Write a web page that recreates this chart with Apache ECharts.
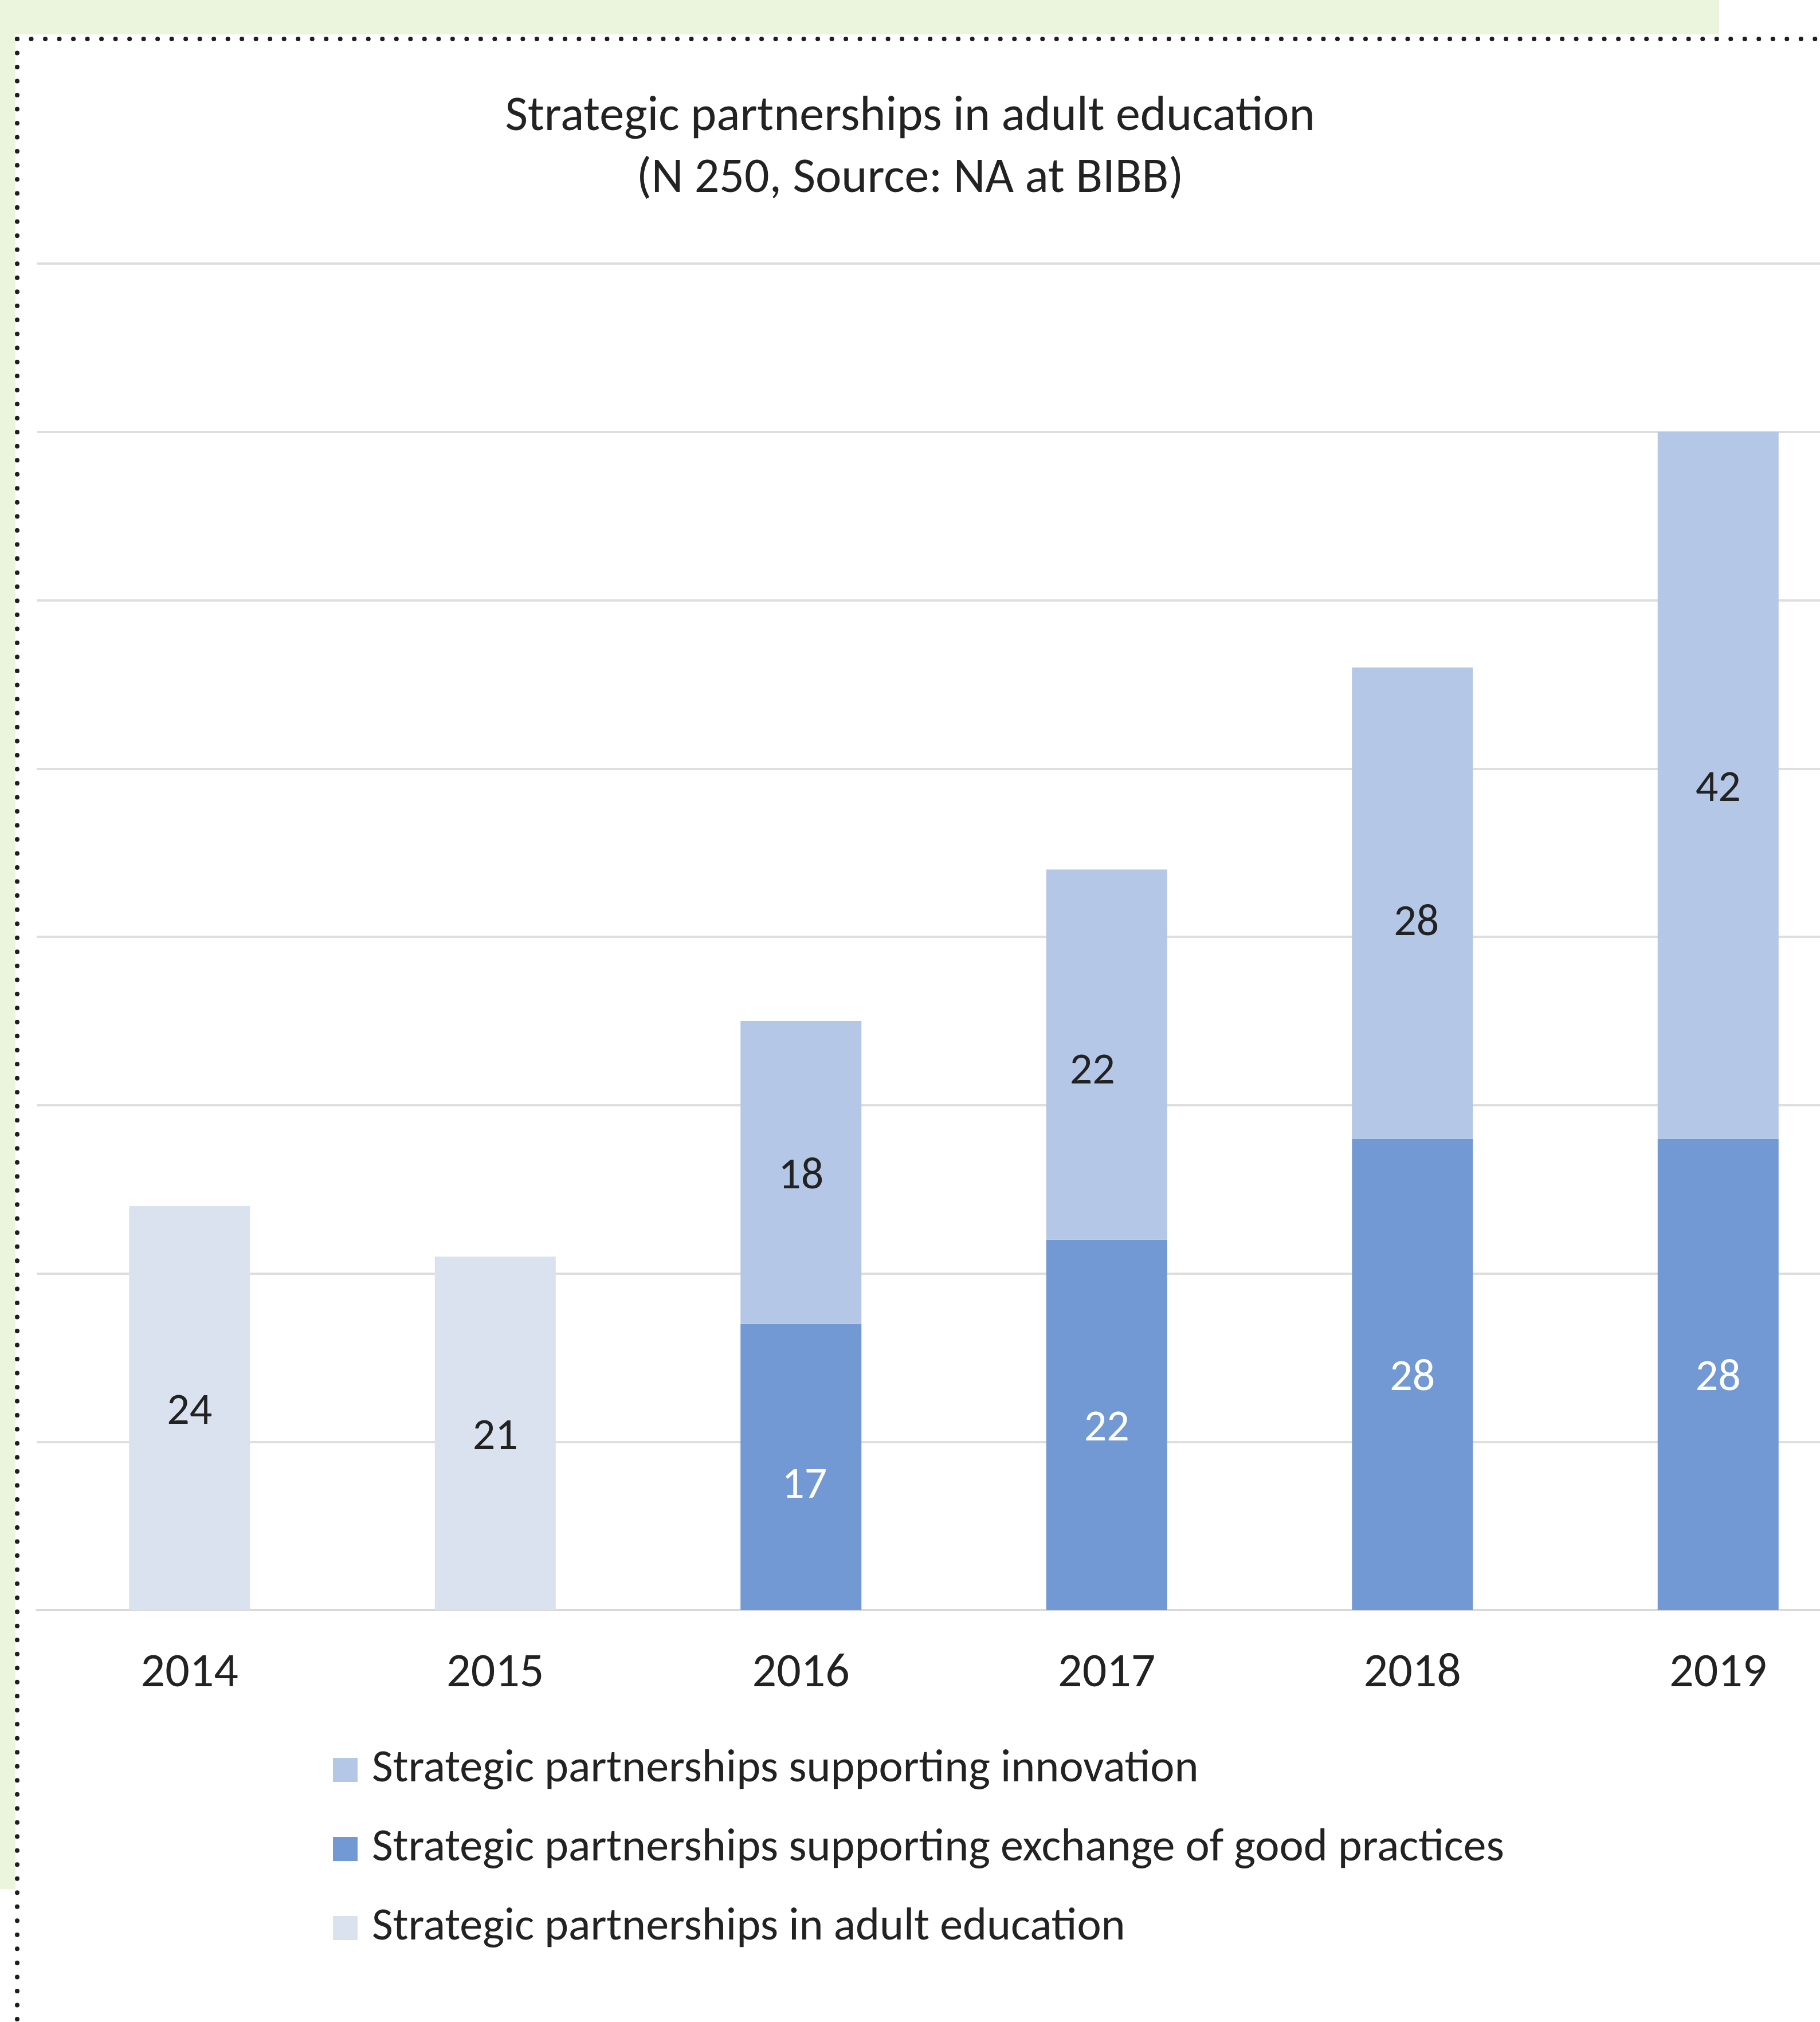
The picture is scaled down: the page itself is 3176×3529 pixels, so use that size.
<!DOCTYPE html>
<html>
<head>
<meta charset="utf-8">
<title>Strategic partnerships in adult education</title>
<script src="https://cdn.jsdelivr.net/npm/echarts@6/dist/echarts.min.js"></script>
<style>
  html, body { margin: 0; padding: 0; background: #ffffff; overflow: hidden; }
  #chart { width: 3176px; height: 3529px; }
</style>
</head>
<body>
<div id="chart"></div>
<script>
// Funded strategic partnerships per call year
const years = ['2014', '2015', '2016', '2017', '2018', '2019'];
const adultEducation = [24, 21, null, null, null, null];
const exchangeGoodPractices = [null, null, 17, 22, 28, 28];
const supportingInnovation = [null, null, 18, 22, 28, 42];

const seriesNames = {
  innovation: 'Strategic partnerships supporting innovation',
  exchange: 'Strategic partnerships supporting exchange of good practices',
  adult: 'Strategic partnerships in adult education'
};

const yMin = 0;
const yMax = 80;
const yStep = 10;

const FONT = 'Carlito, Lato, sans-serif';
const INK = '#222222';

// hand-placed value labels: [dx, dy] in pixels, keyed by series and year index
const labelNudge = {
  exchange: { 2: [6, 26] },
  innovation: { 3: [-25, 23], 4: [7, 28] }
};
const LABEL_SHIFT = [0, 8];

const chart = echarts.init(document.getElementById('chart'), null, { renderer: 'canvas' });

const W = 3176, H = 3529;

function barLabel(color) {
  return {
    show: true,
    position: 'inside',
    offset: LABEL_SHIFT,
    fontFamily: FONT,
    fontSize: 78,
    color: color
  };
}

function withNudges(values, key) {
  const nudges = labelNudge[key] || {};
  return values.map(function (v, i) {
    const n = nudges[i];
    if (!n || v == null) return v;
    return { value: v, label: { offset: [LABEL_SHIFT[0] + n[0], LABEL_SHIFT[1] + n[1]] } };
  });
}

chart.setOption({
  backgroundColor: '#ffffff',
  animation: false,
  title: {
    text: 'Strategic partnerships in adult education\n(N 250, Source: NA at BIBB)',
    left: 'center',
    top: 146,
    textStyle: {
      fontFamily: FONT,
      fontSize: 86,
      fontWeight: 'normal',
      color: INK,
      lineHeight: 108
    }
  },
  legend: {
    orient: 'vertical',
    left: 576,
    top: 3044,
    data: [seriesNames.innovation, seriesNames.exchange, seriesNames.adult],
    icon: 'rect',
    itemWidth: 43,
    itemHeight: 42,
    itemGap: 58,
    selectedMode: false,
    textStyle: {
      fontFamily: FONT,
      fontSize: 80,
      color: INK,
      lineHeight: 78,
      padding: [0, 0, 0, 20]
    }
  },
  grid: {
    left: 64,
    top: 460,
    width: 3201,
    height: 2350,
    outerBoundsMode: 'none',
    containLabel: false
  },
  xAxis: {
    type: 'category',
    data: years,
    axisTick: { show: false },
    axisLine: { show: true, lineStyle: { color: '#D9D9D9', width: 4 } },
    axisLabel: {
      fontFamily: FONT,
      fontSize: 84,
      color: INK,
      lineHeight: 84,
      margin: 70
    }
  },
  yAxis: {
    type: 'value',
    min: yMin,
    max: yMax,
    interval: yStep,
    axisLabel: { show: false },
    axisLine: { show: false },
    axisTick: { show: false },
    splitLine: { lineStyle: { color: '#DEDEDE', width: 4 } }
  },
  series: [
    {
      name: seriesNames.adult,
      type: 'bar',
      stack: 'total',
      barWidth: 211,
      data: withNudges(adultEducation, 'adult'),
      itemStyle: { color: '#DAE1EF' },
      label: barLabel(INK)
    },
    {
      name: seriesNames.exchange,
      type: 'bar',
      stack: 'total',
      barWidth: 211,
      data: withNudges(exchangeGoodPractices, 'exchange'),
      itemStyle: { color: '#7299D4' },
      label: barLabel('#ffffff')
    },
    {
      name: seriesNames.innovation,
      type: 'bar',
      stack: 'total',
      barWidth: 211,
      data: withNudges(supportingInnovation, 'innovation'),
      itemStyle: { color: '#B4C7E7' },
      label: barLabel(INK)
    }
  ],
  graphic: [
    // pale page margin above and to the left of the frame
    { type: 'rect', z: -10, shape: { x: 0, y: 0, width: 3000, height: 60 }, style: { fill: '#EBF4DC' } },
    { type: 'rect', z: -10, shape: { x: 0, y: 0, width: 27, height: 3297 }, style: { fill: '#EBF4DC' } },
    // dotted frame edges
    {
      type: 'line', z: 10,
      shape: { x1: 30, y1: 68, x2: W, y2: 68 },
      style: { stroke: '#1e1e1e', lineWidth: 8, lineCap: 'round', lineDash: [0.01, 24.5] }
    },
    {
      type: 'line', z: 10,
      shape: { x1: 30, y1: 68, x2: 30, y2: H },
      style: { stroke: '#1e1e1e', lineWidth: 8, lineCap: 'round', lineDash: [0.01, 24.5] }
    }
  ]
});
</script>
</body>
</html>
